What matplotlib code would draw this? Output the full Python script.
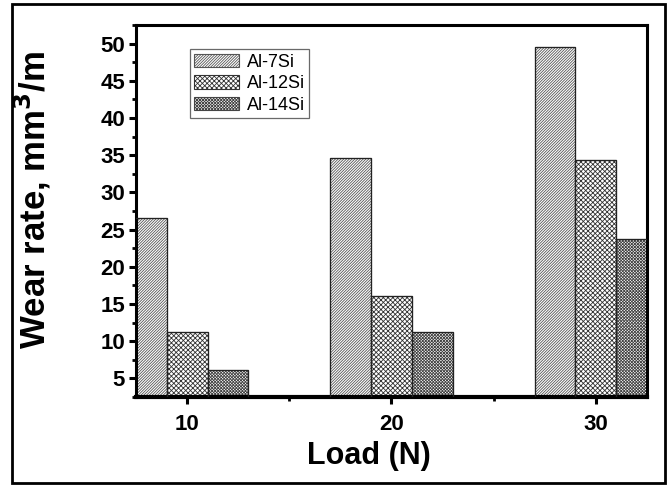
import matplotlib
matplotlib.use("Agg")
import matplotlib.pyplot as plt
from matplotlib.patches import Rectangle
from matplotlib.ticker import MultipleLocator
import numpy as np

matplotlib.rcParams["font.family"] = "sans-serif"
matplotlib.rcParams["font.sans-serif"] = ["Liberation Sans", "DejaVu Sans"]
matplotlib.rcParams["hatch.linewidth"] = 0.6

LOADS = [10, 20, 30]
ALLOYS = ["Al-7Si", "Al-12Si", "Al-14Si"]
AL7SI = [26.6, 34.6, 49.5]
AL12SI = [11.3, 16.1, 34.3]
AL14SI = [6.1, 11.2, 23.8]
HATCHES = {"Al-7Si": "/" * 12, "Al-12Si": "x" * 7, "Al-14Si": "x" * 11}
HATCH_COLORS = {"Al-7Si": "#555555", "Al-12Si": "#333333", "Al-14Si": "#444444"}


def main():
    fig = plt.figure(figsize=(6.68, 4.87), dpi=100)
    ax = fig.add_axes([136 / 668, 1 - 397 / 487, 511 / 668, 372 / 487])

    series = [AL7SI, AL12SI, AL14SI]
    offsets = [-2, 0, 2]
    x = np.array(LOADS, dtype=float)
    for name, vals, off in zip(ALLOYS, series, offsets):
        ax.bar(x + off, vals, width=2.0, bottom=0, color="white",
               edgecolor=HATCH_COLORS[name], hatch=HATCHES[name],
               linewidth=0.8, label=name, zorder=2)
        # black outline over the hatch colour
        ax.bar(x + off, vals, width=2.0, color="none", edgecolor="#222222",
               linewidth=0.9, zorder=3)

    ax.set_xlim(7.5, 32.5)
    ax.set_ylim(2.5, 52.5)
    ax.set_xticks(LOADS)
    ax.set_yticks(np.arange(5, 51, 5))
    ax.xaxis.set_minor_locator(MultipleLocator(5))
    ax.yaxis.set_minor_locator(MultipleLocator(2.5))
    ax.tick_params(axis="both", which="major", direction="out", length=5,
                   width=2.2, labelsize=16, pad=3)
    ax.tick_params(axis="both", which="minor", direction="out", length=3,
                   width=2.0)
    ax.tick_params(top=False, right=False, which="both")
    for lbl in ax.get_xticklabels() + ax.get_yticklabels():
        lbl.set_fontweight("bold")
    ax.tick_params(axis="x", pad=7)

    for side in ["left", "top", "right"]:
        ax.spines[side].set_linewidth(2.2)
    ax.spines["bottom"].set_linewidth(3.0)

    ax.set_xlabel("Load (N)", fontsize=22, fontweight="bold")
    ax.xaxis.set_label_coords(0.455, -0.118)
    ax.set_ylabel("Wear rate, mm$^\\mathbf{3}$/m", fontsize=25,
                  fontweight="bold")
    ax.yaxis.set_label_coords(-0.163, 0.53)

    handles, labels = ax.get_legend_handles_labels()
    leg = ax.legend(handles, labels, loc="upper left",
                    bbox_to_anchor=(0.105, 0.935), fontsize=13,
                    frameon=True, fancybox=False, edgecolor="#444444",
                    handlelength=2.5, handleheight=0.75, handletextpad=0.4,
                    labelspacing=0.25, borderpad=0.25, borderaxespad=0)
    leg.get_frame().set_linewidth(0.9)

    fig.patches.append(Rectangle((12 / 668, 4 / 487), 653 / 668, 479 / 487,
                                 transform=fig.transFigure, fill=False,
                                 edgecolor="black", linewidth=2.0))

    fig.savefig("out.png", dpi=100, facecolor="white")
    plt.close(fig)


if __name__ == "__main__":
    main()
